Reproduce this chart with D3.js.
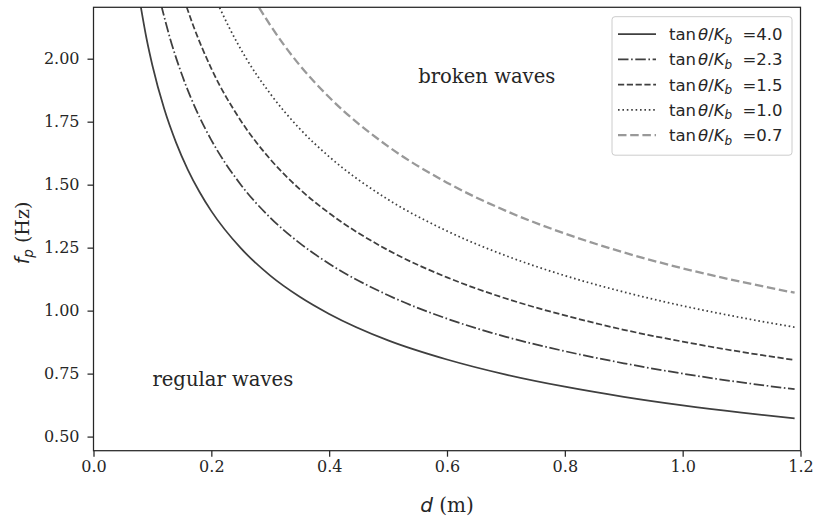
<!DOCTYPE html>
<html>
<head>
<meta charset="utf-8">
<script src="https://cdn.jsdelivr.net/npm/d3@7"></script>
<style>
  body { margin: 0; background: #fff; }
  .tick text { font-family: "DejaVu Serif", serif; fill: #262626; }
</style>
</head>
<body>
<div id="chart"></div>
<script>
// Set variables
const FRAME_WIDTH = 813;
const FRAME_HEIGHT = 522;
const MARGINS = {left: 93.5, right: 12.5, top: 7.3, bottom: 71.3};
const VIS_WIDTH = FRAME_WIDTH - MARGINS.left - MARGINS.right;
const VIS_HEIGHT = FRAME_HEIGHT - MARGINS.top - MARGINS.bottom;

// data: d (m) and f_p (Hz) for each tanθ/K_b
const LABELS = ["4.0", "2.3", "1.5", "1.0", "0.7"];

const D_40 = [0.08, 0.09, 0.10, 0.12, 0.14, 0.16, 0.18, 0.20, 0.25, 0.30, 0.35, 0.40, 0.50, 0.60, 0.70, 0.80, 0.90, 1.00, 1.10, 1.19];
const F_40 = [2.21, 2.08, 1.973, 1.801, 1.668, 1.56, 1.471, 1.395, 1.248, 1.139, 1.055, 0.987, 0.882, 0.806, 0.746, 0.698, 0.658, 0.624, 0.595, 0.572];

const D_23 = [0.115, 0.13, 0.15, 0.18, 0.20, 0.25, 0.30, 0.35, 0.40, 0.50, 0.60, 0.70, 0.80, 0.90, 1.00, 1.10, 1.19];
const F_23 = [2.212, 2.08, 1.937, 1.768, 1.677, 1.50, 1.369, 1.268, 1.186, 1.061, 0.968, 0.896, 0.839, 0.791, 0.75, 0.715, 0.688];

const D_15 = [0.158, 0.17, 0.20, 0.25, 0.30, 0.35, 0.40, 0.50, 0.60, 0.70, 0.80, 0.90, 1.00, 1.10, 1.19];
const F_15 = [2.206, 2.127, 1.961, 1.754, 1.601, 1.482, 1.387, 1.240, 1.132, 1.048, 0.981, 0.924, 0.877, 0.836, 0.804];

const D_10 = [0.214, 0.23, 0.26, 0.30, 0.35, 0.40, 0.50, 0.60, 0.70, 0.80, 0.90, 1.00, 1.10, 1.19];
const F_10 = [2.203, 2.125, 1.998, 1.861, 1.722, 1.611, 1.441, 1.316, 1.218, 1.139, 1.074, 1.019, 0.972, 0.934];

const D_07 = [0.281, 0.30, 0.35, 0.40, 0.50, 0.60, 0.70, 0.80, 0.90, 1.00, 1.10, 1.19];
const F_07 = [2.203, 2.133, 1.974, 1.847, 1.652, 1.508, 1.396, 1.306, 1.231, 1.168, 1.114, 1.071];

const X_TICKS = [0.0, 0.2, 0.4, 0.6, 0.8, 1.0, 1.2];
const Y_TICKS = [0.50, 0.75, 1.00, 1.25, 1.50, 1.75, 2.00];

const SERIES = [
  {d: D_40, f: F_40, color: "#3f3f3f", width: 1.75, dash: null},
  {d: D_23, f: F_23, color: "#3f3f3f", width: 1.75, dash: "10.5,2.6,1.6,2.6"},
  {d: D_15, f: F_15, color: "#3f3f3f", width: 1.75, dash: "6.2,2.6"},
  {d: D_10, f: F_10, color: "#3f3f3f", width: 1.75, dash: "1.6,2.8"},
  {d: D_07, f: F_07, color: "#999999", width: 2.3, dash: "8.5,3.7"}
];

const FRAME = d3.select("#chart")
                .append("svg")
                  .attr("width", FRAME_WIDTH)
                  .attr("height", FRAME_HEIGHT);

const X_SCALE = d3.scaleLinear()
                  .domain([0, 1.2])
                  .range([0, VIS_WIDTH]);

const Y_SCALE = d3.scaleLinear()
                  .domain([0.444, 2.204])
                  .range([VIS_HEIGHT, 0]);

const PLOT = FRAME.append("g")
    .attr("transform", "translate(" + MARGINS.left + "," + MARGINS.top + ")");

PLOT.append("clipPath").attr("id", "clip")
  .append("rect").attr("width", VIS_WIDTH).attr("height", VIS_HEIGHT);

// curves
const line = d3.line()
    .x((p) => X_SCALE(p[0]))
    .y((p) => Y_SCALE(p[1]))
    .curve(d3.curveMonotoneX);

SERIES.forEach((s) => {
  PLOT.append("path")
      .datum(d3.zip(s.d, s.f))
      .attr("clip-path", "url(#clip)")
      .attr("fill", "none")
      .attr("stroke", s.color)
      .attr("stroke-width", s.width)
      .attr("stroke-dasharray", s.dash)
      .attr("d", line);
});

// axes
const xAxis = PLOT.append("g")
    .attr("transform", "translate(0," + VIS_HEIGHT + ")")
    .call(d3.axisBottom(X_SCALE).tickValues(X_TICKS).tickFormat(d3.format(".1f"))
          .tickSizeOuter(0).tickSize(6).tickPadding(4));

const yAxis = PLOT.append("g")
    .call(d3.axisLeft(Y_SCALE).tickValues(Y_TICKS).tickFormat(d3.format(".2f"))
          .tickSizeOuter(0).tickSize(6).tickPadding(8));

[xAxis, yAxis].forEach((a) => {
  a.selectAll(".domain").remove();
  a.selectAll(".tick line").attr("stroke", "#262626").attr("stroke-width", 1.25);
  a.selectAll(".tick text").attr("font-size", "16px");
});

// spines
PLOT.append("rect")
    .attr("width", VIS_WIDTH)
    .attr("height", VIS_HEIGHT)
    .attr("fill", "none")
    .attr("stroke", "#262626")
    .attr("stroke-width", 1.25);

// region labels
PLOT.append("text")
    .attr("x", X_SCALE(0.551)).attr("y", Y_SCALE(1.905))
    .attr("font-family", "DejaVu Serif").attr("font-size", "19.6px").attr("fill", "#262626")
    .text("broken waves");

PLOT.append("text")
    .attr("x", X_SCALE(0.10)).attr("y", Y_SCALE(0.7))
    .attr("font-family", "DejaVu Serif").attr("font-size", "19.6px").attr("fill", "#262626")
    .text("regular waves");

// axis titles
const xt = FRAME.append("text")
    .attr("x", MARGINS.left + VIS_WIDTH / 2)
    .attr("y", 512)
    .attr("text-anchor", "middle")
    .attr("font-size", "20px").attr("fill", "#262626");
xt.append("tspan").attr("font-family", "DejaVu Sans").attr("font-style", "italic").text("d");
xt.append("tspan").attr("font-family", "DejaVu Serif").text(" (m)");

const yt = FRAME.append("text")
    .attr("transform", "translate(29," + (MARGINS.top + VIS_HEIGHT / 2 + 4) + ") rotate(-90)")
    .attr("text-anchor", "middle")
    .attr("font-size", "19px").attr("fill", "#262626");
yt.append("tspan").attr("font-family", "DejaVu Sans").attr("font-style", "italic").text("f");
yt.append("tspan").attr("font-family", "DejaVu Sans").attr("font-style", "italic")
  .attr("font-size", "13.5px").attr("dy", 4).text("p");
yt.append("tspan").attr("font-family", "DejaVu Serif").attr("dy", -4).text(" (Hz)");

// legend
const LEG = FRAME.append("g");
LEG.append("rect")
    .attr("x", 612).attr("y", 16.7)
    .attr("width", 180).attr("height", 138.5)
    .attr("rx", 3)
    .attr("fill", "#fff").attr("fill-opacity", 0.8)
    .attr("stroke", "#cccccc").attr("stroke-width", 1);

SERIES.forEach((s, i) => {
  const y = 34 + i * 25.3;
  LEG.append("line")
      .attr("x1", 618).attr("x2", 656)
      .attr("y1", y).attr("y2", y)
      .attr("stroke", s.color)
      .attr("stroke-width", s.width)
      .attr("stroke-dasharray", s.dash);
  const t = LEG.append("text")
      .attr("x", 669).attr("y", y + 6)
      .attr("font-family", "DejaVu Sans").attr("font-size", "16.5px").attr("fill", "#262626");
  t.append("tspan").text("tan");
  t.append("tspan").attr("font-style", "italic").attr("dx", 2).text("θ");
  t.append("tspan").text("/");
  t.append("tspan").attr("font-style", "italic").text("K");
  t.append("tspan").attr("font-style", "italic").attr("font-size", "12px").attr("dy", 3.5).text("b");
  t.append("tspan").attr("dy", -3.5).attr("dx", 5).text(" =" + LABELS[i]);
});
</script>
</body>
</html>
